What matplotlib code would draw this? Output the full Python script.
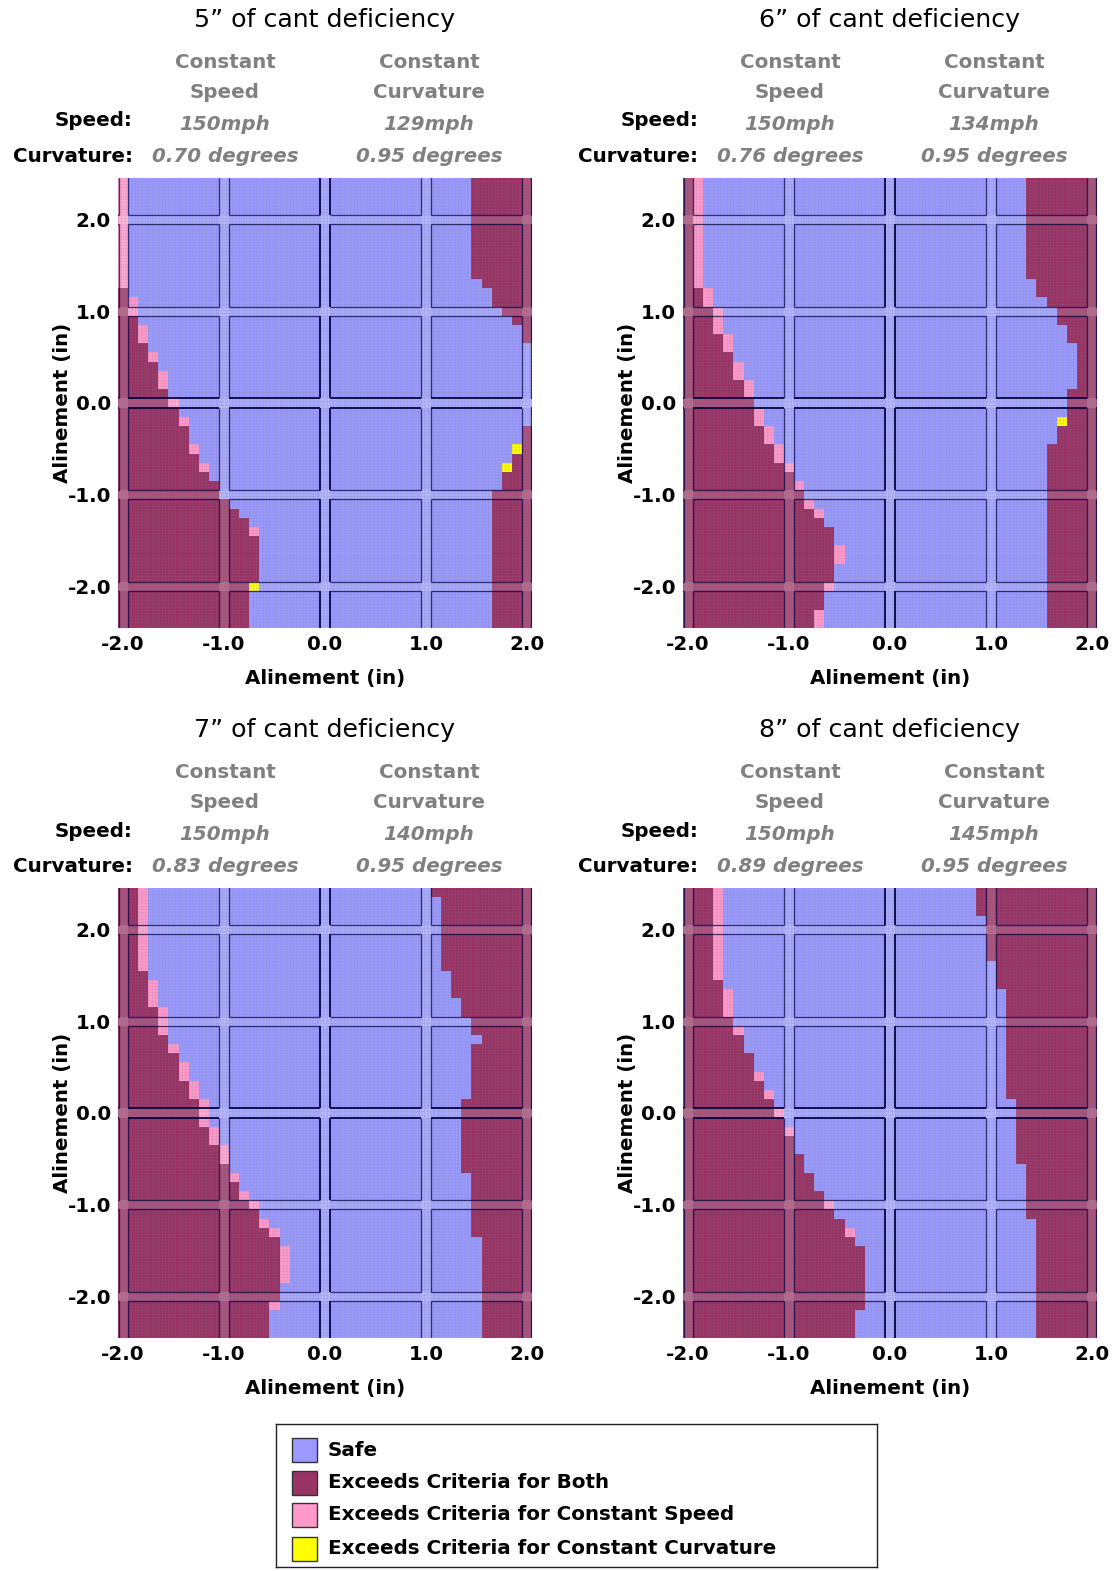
import numpy as np
import matplotlib
matplotlib.use('Agg')
import matplotlib.pyplot as plt
from matplotlib.colors import ListedColormap, BoundaryNorm
from matplotlib.patches import Rectangle
from matplotlib.collections import LineCollection

plt.rcParams['font.family'] = ['DejaVu Sans']

# ---------------- data ----------------
x_cols = [round(-2.0 + 0.1 * i, 1) for i in range(41)]      # alinement (x) cell centres
y_rows = [round(2.4 - 0.1 * i, 1) for i in range(49)]       # alinement (y) cell centres, top to bottom

titles = ['5\u201d of cant deficiency', '6\u201d of cant deficiency',
          '7\u201d of cant deficiency', '8\u201d of cant deficiency']
speed_const_speed = ['150mph', '150mph', '150mph', '150mph']
speed_const_curv = ['129mph', '134mph', '140mph', '145mph']
curv_const_speed = ['0.70 degrees', '0.76 degrees', '0.83 degrees', '0.89 degrees']
curv_const_curv = ['0.95 degrees', '0.95 degrees', '0.95 degrees', '0.95 degrees']

categories = ['Safe', 'Exceeds Criteria for Both',
              'Exceeds Criteria for Constant Speed',
              'Exceeds Criteria for Constant Curvature']
cat_colors = ['#9999FF', '#993366', '#FF99CC', '#FFFF00']

# per row (top -> bottom): number of "both" cells from the left edge,
# number of "speed only" cells that follow, number of "both" cells at the right edge
left_both_5 = [0,0,0,0,0,0,0,0,0,0,0,0,1,1,1,2,2,2,3,3,4,4,4,5,5,6,6,7,7,7,8,8,9,10,10,11,12,13,13,14,14,14,14,14,13,13,13,13,13]
left_speed_5 = [1,1,1,1,1,1,1,1,1,1,1,1,0,1,1,0,1,1,0,1,0,1,1,0,1,0,1,0,0,1,0,1,0,0,0,0,0,0,1,0,0,0,0,0,0,0,0,0,0]
right_both_5 = [6,6,6,6,6,6,6,6,6,6,6,5,4,4,3,2,1,1,0,0,0,0,0,0,0,0,0,1,1,1,2,2,3,3,4,4,4,4,4,4,4,4,4,4,4,4,4,4,4]
curv_only_5 = [(29, 39), (31, 38), (44, 13)]

left_both_6 = [1,1,1,1,1,1,1,1,1,1,1,1,2,2,3,3,3,4,4,5,5,5,6,6,7,7,7,8,8,9,9,10,11,11,12,12,13,14,15,15,15,15,15,15,14,14,14,13,13]
left_speed_6 = [1,1,1,1,1,1,1,1,1,1,1,1,1,1,1,1,1,1,1,0,1,1,1,1,0,1,1,1,1,1,1,1,0,1,0,1,1,0,0,0,1,1,0,0,1,0,0,1,1]
right_both_6 = [7,7,7,7,7,7,7,7,7,7,7,6,6,5,4,4,3,3,2,2,2,2,2,3,3,3,3,4,4,5,5,5,5,5,5,5,5,5,5,5,5,5,5,5,5,5,5,5,5]
curv_only_6 = [(26, 37)]

left_both_7 = [2,2,2,2,2,2,2,2,2,3,3,3,3,4,4,4,5,5,6,6,6,7,7,8,8,8,9,9,10,10,11,11,12,12,13,14,14,15,16,16,16,16,16,16,16,15,15,15,15]
left_speed_7 = [1,1,1,1,1,1,1,1,1,0,1,1,1,1,1,1,0,1,0,1,1,1,1,1,1,1,1,1,1,1,0,1,0,1,1,0,1,1,0,1,1,1,1,0,0,1,0,0,0]
right_both_7 = [10,9,9,9,9,9,9,9,9,8,8,8,7,7,6,6,5,6,6,6,6,6,6,7,7,7,7,7,7,7,7,6,6,6,6,6,6,6,5,5,5,5,5,5,5,5,5,5,5]
curv_only_7 = []

left_both_8 = [3,3,3,3,3,3,3,3,3,3,4,4,4,4,5,5,6,6,7,7,7,8,8,9,9,10,10,11,11,12,12,13,13,14,14,15,16,16,17,18,18,18,18,18,18,18,17,17,17]
left_speed_8 = [1,1,1,1,1,1,1,1,1,1,0,1,1,1,0,1,0,0,0,0,1,0,1,0,1,0,1,0,0,0,0,0,0,0,1,0,0,1,0,0,0,0,0,0,0,0,0,0,0]
right_both_8 = [12,12,12,11,11,11,11,11,10,10,10,9,9,9,9,9,9,9,9,9,9,9,9,8,8,8,8,8,8,8,7,7,7,7,7,7,6,6,6,6,6,6,6,6,6,6,6,6,6]
curv_only_8 = []

panels = [
    (left_both_5, left_speed_5, right_both_5, curv_only_5),
    (left_both_6, left_speed_6, right_both_6, curv_only_6),
    (left_both_7, left_speed_7, right_both_7, curv_only_7),
    (left_both_8, left_speed_8, right_both_8, curv_only_8),
]

# ---------------- figure ----------------
W, H = 1116, 1571
fig = plt.figure(figsize=(W / 100, H / 100), dpi=100)


def fx(px):
    return px / W


def fy(py):
    return 1 - py / H


axes_lt = [(118, 178), (683, 178), (118, 888), (683, 888)]
AW, AH = 414, 450

cmap = ListedColormap(cat_colors)
norm = BoundaryNorm([-0.5, 0.5, 1.5, 2.5, 3.5], 4)

x_edges = np.array([x - 0.05 for x in x_cols] + [x_cols[-1] + 0.05])
y_edges = np.array([y + 0.05 for y in y_rows] + [y_rows[-1] - 0.05])

gray = '#808080'
FS = 14.3

for p, ((AL, AT), (lb, ls, rb, co)) in enumerate(zip(axes_lt, panels)):
    ax = fig.add_axes([fx(AL), fy(AT + AH), AW / W, AH / H])
    nr, nc = len(y_rows), len(x_cols)
    grid = np.zeros((nr, nc), dtype=int)
    for r in range(nr):
        grid[r, :lb[r]] = 1
        grid[r, lb[r]:lb[r] + ls[r]] = 2
        if rb[r] > 0:
            grid[r, nc - rb[r]:] = 1
    for (r, c) in co:
        grid[r, c] = 3
    ax.pcolormesh(x_edges, y_edges, grid, cmap=cmap, norm=norm, shading='flat')

    # fine texture grid
    fine_x = np.arange(-2.05, 2.05, 0.1 / 3)
    fine_y = np.arange(-2.45, 2.45, 0.1 / 3)
    ax.vlines(fine_x, -2.45, 2.45, color=gray, alpha=0.2, lw=0.5)
    ax.hlines(fine_y, -2.05, 2.05, color=gray, alpha=0.2, lw=0.5)

    # light channels around integer gridlines
    for k in range(-2, 3):
        ax.axvspan(k - 0.045, k + 0.045, color='white', alpha=0.15, lw=0)
        ax.axhspan(k - 0.05, k + 0.05, color='white', alpha=0.15, lw=0)

    # dark boxed gridlines
    for k in range(-2, 3):
        lw = 1.4 if k == 0 else 0.95
        al = 0.9 if k == 0 else 0.7
        segs = []
        for j in range(-3, 3):
            for off in (-0.045, 0.045):
                segs.append([(k + off, j + 0.05), (k + off, j + 1 - 0.05)])
        ax.add_collection(LineCollection(segs, colors='#000040', alpha=al, linewidths=lw))
        segs = []
        for i in range(-3, 3):
            for off in (-0.05, 0.05):
                segs.append([(i + 0.045, k + off), (i + 1 - 0.045, k + off)])
        ax.add_collection(LineCollection(segs, colors='#000040', alpha=al, linewidths=lw))

    ax.set_xlim(-2.05, 2.05)
    ax.set_ylim(-2.45, 2.45)
    ticks = [-2, -1, 0, 1, 2]
    ax.set_xticks(ticks)
    ax.set_yticks(ticks)
    ax.set_xticklabels(['%.1f' % t for t in ticks], fontsize=FS, fontweight='bold')
    ax.set_yticklabels(['%.1f' % t for t in ticks], fontsize=FS, fontweight='bold')
    ax.tick_params(length=0, pad=5)
    for s in ax.spines.values():
        s.set_visible(False)
    ax.set_xlabel('Alinement (in)', fontsize=FS, fontweight='bold', labelpad=11)
    ax.set_ylabel('Alinement (in)', fontsize=FS, fontweight='bold', labelpad=-3)

    # header texts
    fig.text(fx(AL + 207), fy(AT - 158), titles[p], fontsize=18.2,
             ha='center', va='center')
    for cx, l1, l2 in [(AL + 107, 'Constant', 'Speed'), (AL + 311, 'Constant', 'Curvature')]:
        fig.text(fx(cx), fy(AT - 116), l1, fontsize=FS, fontweight='bold', color=gray,
                 ha='center', va='center')
        fig.text(fx(cx), fy(AT - 86), l2, fontsize=FS, fontweight='bold', color=gray,
                 ha='center', va='center')
    fig.text(fx(AL + 15), fy(AT - 57), 'Speed:', fontsize=FS, fontweight='bold',
             ha='right', va='center')
    fig.text(fx(AL + 15), fy(AT - 21), 'Curvature:', fontsize=FS, fontweight='bold',
             ha='right', va='center')
    fig.text(fx(AL + 107), fy(AT - 54), speed_const_speed[p], fontsize=FS, fontweight='bold',
             style='italic', color=gray, ha='center', va='center')
    fig.text(fx(AL + 311), fy(AT - 54), speed_const_curv[p], fontsize=FS, fontweight='bold',
             style='italic', color=gray, ha='center', va='center')
    fig.text(fx(AL + 107), fy(AT - 21), curv_const_speed[p], fontsize=FS, fontweight='bold',
             style='italic', color=gray, ha='center', va='center')
    fig.text(fx(AL + 311), fy(AT - 21), curv_const_curv[p], fontsize=FS, fontweight='bold',
             style='italic', color=gray, ha='center', va='center')

# ---------------- legend ----------------
LX, LY, LW, LH = 276, 1424, 601, 143
lax = fig.add_axes([fx(LX), fy(LY + LH), LW / W, LH / H])
lax.set_xlim(0, LW)
lax.set_ylim(LH, 0)
lax.set_xticks([])
lax.set_yticks([])
for s in lax.spines.values():
    s.set_linewidth(1.0)
    s.set_color('#222222')
row_y = [26, 59, 91, 125]
for cy, lab, col in zip(row_y, categories, cat_colors):
    lax.add_patch(Rectangle((16, cy - 12), 25, 24, facecolor=col, edgecolor='#333333', lw=1.0))
    lax.text(52, cy, lab, fontsize=FS, fontweight='bold', ha='left', va='center')

fig.savefig('out.png', dpi=100)
